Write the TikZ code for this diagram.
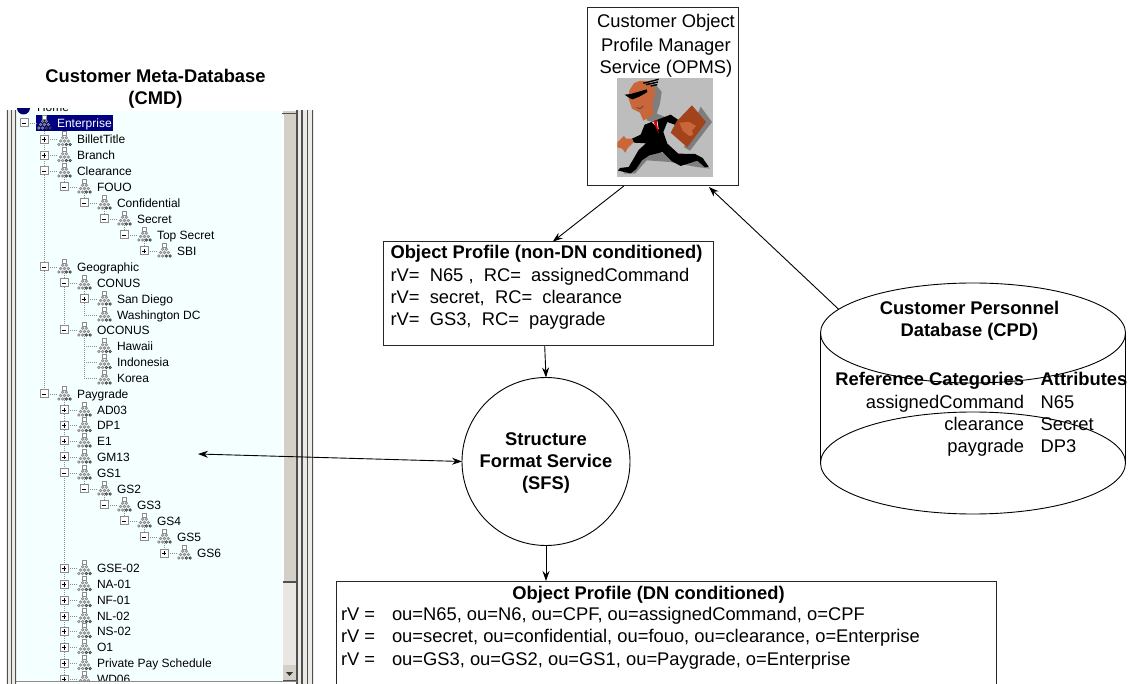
\documentclass[tikz,border=0pt]{standalone}
\usepackage{fontspec}
\setmainfont{Liberation Sans}
\usetikzlibrary{arrows.meta,calc,shapes.geometric}
\definecolor{panelbg}{HTML}{F4FFFF}
\definecolor{winGray}{HTML}{D4D0C8}
\definecolor{winDither}{HTML}{E9E7E3}
\definecolor{winDark}{HTML}{505050}
\definecolor{treeLine}{HTML}{8C8C8C}
\definecolor{navy}{HTML}{000080}
\definecolor{skin}{HTML}{C9673A}
\definecolor{briefcase}{HTML}{A3431C}
\definecolor{imgbg}{HTML}{BDBDBD}
\definecolor{imgshadow}{HTML}{7E7E7E}
\newcommand\bigtxt{\fontsize{18.35}{22}\selectfont}
\newcommand\treefont{\fontsize{12}{14}\selectfont}
\newcommand\orgicon[3]{%
  \fill[#3] (#1-2.2,#2-8) rectangle (#1+2.2,#2-4);
  \draw[treeLine,line width=.8] (#1-2.2,#2-8) rectangle (#1+2.2,#2-4);
  \foreach \dx in {-1.9,1.9} \draw[treeLine,line width=.8] (#1+\dx,#2-1.8) circle (1.2);
  \foreach \dx in {-3.8,0,3.8} \draw[treeLine,line width=.8] (#1+\dx,#2+1.5) circle (1.2);
  \foreach \dx in {-5.7,-1.9} \draw[treeLine,line width=.8] (#1+\dx,#2+5) circle (1.2);
  \foreach \dx in {1.9,5.7} \draw[black!75,line width=.8] (#1+\dx,#2+5) circle (1.2);
}
\newcommand\expander[3]{%
  \draw[treeLine,fill=white,line width=1] (#1-4,#2-4) rectangle (#1+4,#2+4);
  \draw[black,line width=.9] (#1-2.2,#2) -- (#1+2.2,#2);
  \ifnum#3=1 \draw[black,line width=.9] (#1,#2-2.2) -- (#1,#2+2.2);\fi
}
\tikzset{
  every node/.style={inner sep=0,outer sep=0},
  body/.style={anchor=base west,font=\bigtxt},
  bodyb/.style={anchor=base west,font=\bigtxt\bfseries},
  bodyc/.style={anchor=base,font=\bigtxt},
  outline/.style={draw=black!85,line width=1},
  thin line/.style={black,line width=.8},
  arr/.style={black,line width=.9,-{Stealth[length=10,width=7]}},
  arrb/.style={black,line width=.9,{Stealth[length=10,width=7]}-{Stealth[length=10,width=7]}},
  treetxt/.style={anchor=base west,font=\treefont},
  dots/.style={treeLine,line width=.7,dash pattern=on 1 off 1},
}
\begin{document}
\begin{tikzpicture}[x=1pt,y=-1pt]
\useasboundingbox (0,0) rectangle (1128,684);
\fill[white] (0,0) rectangle (1128,684);

% ---- tree window frame
\fill[winGray!45] (6,110) rectangle (17,684);
\fill[winGray!45] (297,110) rectangle (314,684);
\foreach \xx/\ww in {7.5/1.6,11.5/1.4,15.8/1.2,297/1.8,302/1.8,307.5/1.2,312.5/1.2}
  \draw[winDark,line width=\ww] (\xx,110) -- (\xx,684);
\fill[panelbg] (17,111) rectangle (282,680.5);
\draw[treeLine,line width=1] (16,681) -- (297,681);
% scroll bar
\fill[winGray] (283,111) rectangle (296,582);
\draw[winDark,line width=1.2] (282,113.8) -- (296,113.8);
\draw[white,line width=1] (283.5,115) -- (283.5,582);
\draw[winDark,line width=1.2] (283,582) -- (296,582);
\fill[winDither] (283,582.5) rectangle (296,665);
\fill[winGray] (283,665) rectangle (296,680);
\draw[winDark,line width=1] (283,680.5) -- (296.5,680.5) -- (296.5,665);
\fill[black!80] (286,672) -- (293,672) -- (289.5,676) -- cycle;

% ---- clipped row above the tree
\begin{scope}
  \clip (17,109) rectangle (282,115);
  \fill[navy!85!black] (23.5,108) circle (6.5);
\end{scope}
\begin{scope}
  \clip (17,109) rectangle (282,111.5);
  \node (homerow) [treetxt] at (37,111.5) {Home};
\end{scope}

% ---- tree
\begin{scope}
\clip (17,111) rectangle (282,680.5);
\foreach \xx/\ya/\yb in {44/123/394,64/171/187,64/267/330,64/394/690,84/187/203,84/283/315,84/330/378,84/473/489,104/203/219,124/219/235,144/235/251,104/489/505,124/505/521,144/521/537,164/537/553}
  \draw[dots] (\xx,\ya) -- (\xx,\yb);
\fill[navy] (36,115) rectangle (113,131);
\draw[dots] (24,123) -- (37,123);
\orgicon{44.5}{123}{white}
\expander{24}{123}{0}
\node (rowroot) [treetxt,text=white] at (57,127.3) {Enterprise};
\foreach \lv/\yy/\tx [count=\i] in {
 1/139.5/BilletTitle, 1/155.5/Branch, 1/171/Clearance, 2/187/FOUO,
 3/203/Confidential, 4/219/Secret, 5/235/Top Secret, 6/251/SBI,
 1/267/Geographic, 2/283/CONUS, 3/299/San Diego, 3/315/Washington DC,
 2/330/OCONUS, 3/346.5/Hawaii, 3/362.5/Indonesia, 3/378/Korea,
 1/394/Paygrade, 2/410/AD03, 2/425.5/DP1, 2/441/E1, 2/457/GM13,
 2/473/GS1, 3/489/GS2, 4/505/GS3, 5/521/GS4, 6/537/GS5, 7/553/GS6,
 2/568.5/GSE-02, 2/584.5/NA-01, 2/600.5/NF-01, 2/616.5/NL-02,
 2/631.5/NS-02, 2/647.5/O1, 2/663.5/Private Pay Schedule, 2/679/WD06}
{
  \pgfmathsetmacro\expx{24+20*\lv}
  \pgfmathsetmacro\icx{44.5+20*\lv}
  \pgfmathsetmacro\txx{57+20*\lv}
  \draw[dots] (\expx,\yy) -- (\icx-7,\yy);
  \orgicon{\icx}{\yy}{white}
  \node (row\i) [treetxt] at (\txx,\yy+4.3) {\tx};
}
\foreach \lv/\yy/\st in {
 1/139.5/1,1/155.5/1,1/171/0,2/187/0,3/203/0,4/219/0,5/235/0,6/251/1,1/267/0,2/283/0,3/299/1,
 2/330/0,1/394/0,2/410/1,2/425.5/1,2/441/1,2/457/1,2/473/0,3/489/0,4/505/0,5/521/0,6/537/0,7/553/1,
 2/568.5/1,2/584.5/1,2/600.5/1,2/616.5/1,2/631.5/1,2/647.5/1,2/663.5/1,2/679/1}
{
  \pgfmathsetmacro\expx{24+20*\lv}
  \expander{\expx}{\yy}{\st}
}
\end{scope}

% ---- title
\node (cmdtitle1) [font=\bigtxt\bfseries,anchor=base] at (155.5,82.7) {Customer Meta-Database};
\node (cmdtitle2) [font=\bigtxt\bfseries,anchor=base] at (155.5,104.5) {(CMD)};

% ---- OPMS box and running figure
\node (opms) [outline,minimum width=150.3,minimum height=178.7] at (662.85,96.65) {};
\node (opmsa) [bodyc] at (666,28) {Customer Object};
\node (opmsb) [bodyc] at (666,51.5) {Profile Manager};
\node (opmsc) [bodyc] at (666,74) {Service (OPMS)};
\begin{scope}[shift={(610,72)},x=0.3333pt,y=-0.3333pt]
  \fill[imgbg] (21,18) rectangle (310,315);
  % shadows
  \fill[imgshadow] (130,28) -- (155,60) -- (150,95) -- (140,125) -- (165,135) -- (130,150) -- (110,145) -- cycle;
  \fill[imgshadow] (272,104) -- (306,150) -- (240,236) -- (222,226) -- cycle;
  \fill[imgshadow] (100,230) -- (190,250) -- (270,265) -- (300,290) -- (260,285) -- (180,270) -- (110,265) -- (75,305) -- (40,305) -- cycle;
  % head and neck
  \fill[skin] (72,34) .. controls (90,22) and (122,22) .. (133,48) -- (135,70) -- (127,92) -- (130,128) -- (100,146) -- (90,122) -- (66,110) -- (56,80) -- (58,55) -- cycle;
  % hair
  \draw[black,line width=1.4] (100,34) -- (146,22);
  \draw[black,line width=1.4] (108,38) -- (144,30);
  \draw[black,line width=1.4] (122,42) -- (142,38);
  % sunglasses
  \fill[black] (44,68) -- (62,66) -- (110,52) -- (112,60) -- (88,74) -- (68,82) -- (58,78) -- cycle;
  \draw[black!70,line width=.8] (80,106) .. controls (88,112) and (96,110) .. (100,102);
  % suit
  \fill[black] (104,158) -- (135,146) -- (182,128) -- (214,150) -- (205,162) -- (172,150) -- (160,180) -- (172,215) -- (205,245) -- (255,246) -- (278,258) -- (296,284) -- (285,286) -- (262,266) -- (212,282) -- (186,268) -- (158,240) -- (118,250) -- (96,265) -- (78,292) -- (62,304) -- (24,296) -- (30,288) -- (56,285) -- (72,258) -- (86,234) -- (108,214) -- (72,212) -- (66,200) -- (92,188) -- cycle;
  % shirt and tie
  \fill[white] (126,150) -- (142,146) -- (146,172) -- cycle;
  \fill[red!85!black] (130,148) -- (140,146) -- (146,186) -- cycle;
  % briefcase
  \fill[briefcase] (246,100) -- (288,150) -- (232,226) -- (182,182) -- (200,148) -- cycle;
  % hands
  \fill[skin] (208,152) -- (238,150) -- (258,162) -- (246,176) -- (250,188) -- (238,192) -- (218,176) -- cycle;
  \fill[skin] (22,212) -- (42,192) -- (48,200) -- (66,200) -- (70,212) -- (52,230) -- (46,242) -- (36,230) -- (22,226) -- cycle;
\end{scope}

% ---- non-DN profile
\node (prof) [outline,minimum width=330,minimum height=104.3] at (548.7,293.85) {};
\node (p0) [bodyb] at (390.5,259) {Object Profile (non-DN conditioned)};
\node (p1) [body] at (390.5,281.7) {rV=\ \ N65 ,\ \ RC=\ \ assignedCommand};
\node (p2) [body] at (390.5,303.7) {rV=\ \ secret,\ \ RC=\ \ clearance};
\node (p3) [body] at (390.5,326) {rV=\ \ GS3,\ \ RC=\ \ paygrade};

% ---- SFS
\node (sfs) [circle,draw=black,line width=.9,minimum size=168] at (546,461.5) {};
\node (sfstext) [font=\bigtxt\bfseries,align=center] at (546,462.5) {Structure\\Format Service\\(SFS)};

% ---- DN profile
\node (dn) [minimum width=660,minimum height=103] at (666,632.5) {};
\draw[outline] (dn.south west) -- (dn.north west) -- (dn.north east) -- (dn.south east);
\node (d0) [font=\bigtxt\bfseries,anchor=base] at (648.5,599) {Object Profile (DN conditioned)};
\node (d1a) [body] at (341,620.7) {rV =};
\node (d1) [body] at (392,620.7) {ou=N65, ou=N6, ou=CPF, ou=assignedCommand, o=CPF};
\node (d2a) [body] at (341,642.7) {rV =};
\node (d2) [body] at (392,642.7) {ou=secret, ou=confidential, ou=fouo, ou=clearance, o=Enterprise};
\node (d3a) [body] at (341,665.7) {rV =};
\node (d3) [body] at (392,665.7) {ou=GS3, ou=GS2, ou=GS1, ou=Paygrade, o=Enterprise};

% ---- CPD cylinder
\node (cap) [ellipse,draw=black,line width=.9,minimum width=305,minimum height=100] at (973,333) {};
\node (base) [ellipse,draw=black,line width=.9,minimum width=305,minimum height=102] at (973,463) {};
\draw[thin line] (cap.west) -- (base.west);
\draw[thin line] (cap.east) -- (base.east);
\node (cpdtext) [font=\bigtxt\bfseries,align=center] at (969.5,321) {Customer Personnel\\Database (CPD)};
\node (c0) [font=\bigtxt\bfseries,anchor=base east] at (1024,386) {Reference Categories};
\node (c0b) [bodyb] at (1040.7,386) {Attributes};
\node (c1) [font=\bigtxt,anchor=base east] at (1024,409) {assignedCommand};
\node (c1b) [body] at (1040.7,409) {N65};
\node (c2) [font=\bigtxt,anchor=base east] at (1024,431) {clearance};
\node (c2b) [body] at (1040.7,431) {Secret};
\node (c3) [font=\bigtxt,anchor=base east] at (1024,453) {paygrade};
\node (c3b) [body] at (1040.7,453) {DP3};

% ---- connectors
\coordinate (treeend) at (198,454);
\draw[arr] ($(opms.south)+(-39,0)$) -- ($(prof.north)+(4,0)$);
\draw[arr] (cap.170.5) -- ($(opms.south)+(46,1)$);
\draw[arr] ($(prof.south)+(-4,0)$) -- (sfs.north);
\draw[arr] (sfs.south) -- ($(dn.north)+(-120,0)$);
\draw[arrb] (treeend) -- (sfs.west);
\end{tikzpicture}
\end{document}
